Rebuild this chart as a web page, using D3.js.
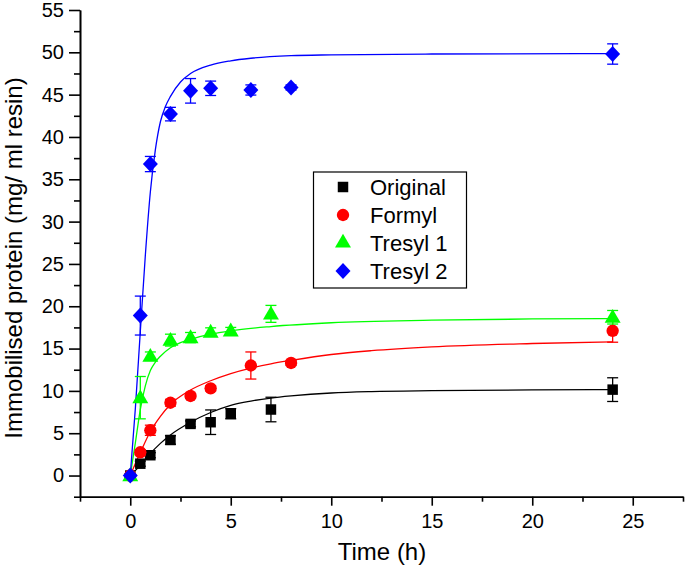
<!DOCTYPE html>
<html>
<head>
<meta charset="utf-8">
<script src="https://cdn.jsdelivr.net/npm/d3@7"></script>
<style>
  html, body { margin: 0; padding: 0; background: #fff; }
  svg { display: block; font-family: "Liberation Sans", Arial, sans-serif; }
</style>
</head>
<body>
<svg id="chart" width="685" height="570"></svg>
<script>
// ---- Data ----
const seriesNames = ["Original", "Formyl", "Tresyl 1", "Tresyl 2"];
const seriesColors = ["#000000", "#ff0000", "#00ff00", "#0000ff"];
const seriesSymbols = ["square", "circle", "triangle", "diamond"];

const originalTime = [0, 0.5, 1, 2, 3, 4, 5, 7, 24];
const originalValue = [0, 1.4, 2.4, 4.2, 6.1, 6.3, 7.3, 7.8, 10.15];
const originalError = [0.2, 0.3, 0.3, 0.5, 0.35, 1.45, 0.6, 1.45, 1.4];

const formylTime = [0, 0.5, 1, 2, 3, 4, 6, 8, 24];
const formylValue = [0, 2.75, 5.35, 8.6, 9.4, 10.3, 13.0, 13.3, 17.1];
const formylError = [0.2, 0.3, 0.6, 0.4, 0.3, 0.3, 1.6, 0.3, 1.35];

const tresyl1Time = [0, 0.5, 1, 2, 3, 4, 5, 7, 24];
const tresyl1Value = [0, 9.2, 14.1, 16.0, 16.3, 16.95, 17.1, 19.1, 18.7];
const tresyl1Error = [0.2, 2.5, 0.5, 0.7, 0.6, 0.5, 0.4, 1.0, 0.8];

const tresyl2Time = [0, 0.5, 1, 2, 3, 4, 6, 8, 24];
const tresyl2Value = [0, 18.9, 36.8, 42.7, 45.45, 45.75, 45.55, 45.85, 49.8];
const tresyl2Error = [0.2, 2.3, 0.9, 0.8, 1.45, 0.85, 0.6, 0.3, 1.2];

// Fitted curves
const originalFitTime = [0, 0.5, 1, 1.5, 2, 3, 4, 5, 6, 7, 8, 10, 12, 15, 20, 24];
const originalFitValue = [0, 1.2, 2.6, 3.8, 4.8, 6.3, 7.45, 8.3, 8.8, 9.15, 9.4, 9.75, 9.92, 10.03, 10.12, 10.15];

const formylFitTime = [0, 0.25, 0.5, 1, 1.5, 2, 3, 4, 5, 6, 7, 8, 10, 12, 15, 20, 24];
const formylFitValue = [0, 1.4, 2.7, 5.2, 7.0, 8.4, 10.1, 11.2, 12.05, 12.7, 13.2, 13.6, 14.3, 14.75, 15.2, 15.6, 15.8];

const tresyl1FitTime = [0, 0.25, 0.5, 0.75, 1, 1.25, 1.5, 2, 2.5, 3, 4, 5, 7, 10, 15, 20, 24];
const tresyl1FitValue = [0, 3.8, 7.8, 10.6, 12.4, 13.4, 14.1, 15.1, 15.7, 16.1, 16.7, 17.1, 17.6, 18.05, 18.35, 18.5, 18.55];

const tresyl2FitTime = [0, 0.25, 0.5, 0.75, 1, 1.25, 1.5, 1.75, 2, 2.5, 3, 4, 5, 6, 8, 10, 15, 24];
const tresyl2FitValue = [0, 7.8, 17.0, 26.0, 33.5, 38.5, 41.8, 43.6, 44.8, 46.5, 47.5, 48.5, 49.0, 49.3, 49.6, 49.7, 49.8, 49.85];

const xMajorTicks = [0, 5, 10, 15, 20, 25];
const xMinorTicks = [-2.5, 2.5, 7.5, 12.5, 17.5, 22.5, 27.5];
const yMajorTicks = [0, 5, 10, 15, 20, 25, 30, 35, 40, 45, 50, 55];
const yMinorTicks = [-2.5, 2.5, 7.5, 12.5, 17.5, 22.5, 27.5, 32.5, 37.5, 42.5, 47.5, 52.5];

const xTitle = "Time (h)";
const yTitle = "Immobilised protein (mg/ ml resin)";

// ---- Build ----
const points = [
  [originalTime, originalValue, originalError],
  [formylTime, formylValue, formylError],
  [tresyl1Time, tresyl1Value, tresyl1Error],
  [tresyl2Time, tresyl2Value, tresyl2Error]
];
const fits = [
  [originalFitTime, originalFitValue],
  [formylFitTime, formylFitValue],
  [tresyl1FitTime, tresyl1FitValue],
  [tresyl2FitTime, tresyl2FitValue]
];

const svg = d3.select("#chart");
const x = d3.scaleLinear().domain([-2.5, 27.5]).range([80, 683]);
const y = d3.scaleLinear().domain([-2.5, 55]).range([496.7, 10]);

// axes
const axisFont = 20;
const gx = svg.append("g").attr("transform", `translate(0,${y(-2.5)})`)
  .call(d3.axisBottom(x).tickValues(xMajorTicks).tickSize(9).tickSizeOuter(0).tickPadding(8).tickFormat(d3.format("d")));
const gxm = svg.append("g").attr("transform", `translate(0,${y(-2.5)})`)
  .call(d3.axisBottom(x).tickValues(xMinorTicks).tickSize(5).tickSizeOuter(0).tickFormat(""));
const gy = svg.append("g").attr("transform", `translate(${x(-2.5)},0)`)
  .call(d3.axisLeft(y).tickValues(yMajorTicks).tickSize(11).tickSizeOuter(0).tickPadding(5).tickFormat(d3.format("d")));
const gym = svg.append("g").attr("transform", `translate(${x(-2.5)},0)`)
  .call(d3.axisLeft(y).tickValues(yMinorTicks).tickSize(6).tickSizeOuter(0).tickFormat(""));
[gx, gxm, gy, gym].forEach(g => {
  g.select(".domain").attr("stroke", "#000").attr("stroke-width", 1.6);
  g.selectAll(".tick line").attr("stroke", "#000").attr("stroke-width", 1.6);
  g.selectAll(".tick text").attr("fill", "#000")
    .style("font-family", '"Liberation Sans", Arial, sans-serif').style("font-size", axisFont + "px");
});

svg.append("text").attr("x", 382).attr("y", 560).attr("text-anchor", "middle")
  .style("font-size", "24px").attr("fill", "#000").text(xTitle);
svg.append("text").attr("transform", "translate(22,258) rotate(-90)").attr("text-anchor", "middle")
  .style("font-size", "24px").attr("fill", "#000").text(yTitle);

// fit lines
const line = d3.line().x(d => x(d[0])).y(d => y(d[1])).curve(d3.curveMonotoneX);
fits.forEach((f, i) => {
  const data = f[0].map((t, j) => [t, f[1][j]]);
  svg.append("path").datum(data).attr("d", line)
    .attr("fill", "none").attr("stroke", seriesColors[i]).attr("stroke-width", 1.3);
});

// symbols
function symbolPath(kind) {
  if (kind === "square") return d3.symbol(d3.symbolSquare, 110)();
  if (kind === "circle") return d3.symbol(d3.symbolCircle, 120)();
  if (kind === "triangle") return d3.symbol(d3.symbolTriangle, 110)();
  return "M0,-8L7.5,0L0,8L-7.5,0Z";
}

points.forEach((p, i) => {
  const g = svg.append("g");
  const col = seriesColors[i];
  p[0].forEach((t, j) => {
    const v = p[1][j], e = p[2][j];
    const cx = x(t);
    g.append("line").attr("x1", cx).attr("x2", cx).attr("y1", y(v - e)).attr("y2", y(v + e))
      .attr("stroke", col).attr("stroke-width", 1.3);
    [v - e, v + e].forEach(ev => {
      g.append("line").attr("x1", cx - 5.5).attr("x2", cx + 5.5).attr("y1", y(ev)).attr("y2", y(ev))
        .attr("stroke", col).attr("stroke-width", 1.3);
    });
    g.append("path").attr("d", symbolPath(seriesSymbols[i]))
      .attr("transform", `translate(${cx},${y(v) + (seriesSymbols[i] === "triangle" ? 1 : 0)})`)
      .attr("fill", col);
  });
});

// legend
const lg = svg.append("g");
lg.append("rect").attr("x", 313.5).attr("y", 172).attr("width", 153).attr("height", 116)
  .attr("fill", "#fff").attr("stroke", "#000").attr("stroke-width", 1.2);
const legendRows = [187, 215, 243, 271];
seriesNames.forEach((name, i) => {
  lg.append("path").attr("d", symbolPath(seriesSymbols[i]))
    .attr("transform", `translate(343,${legendRows[i]})`).attr("fill", seriesColors[i]);
  lg.append("text").attr("x", 370).attr("y", legendRows[i]).attr("dy", "0.36em")
    .style("font-size", "22px").attr("fill", "#000").text(name);
});
</script>
</body>
</html>
